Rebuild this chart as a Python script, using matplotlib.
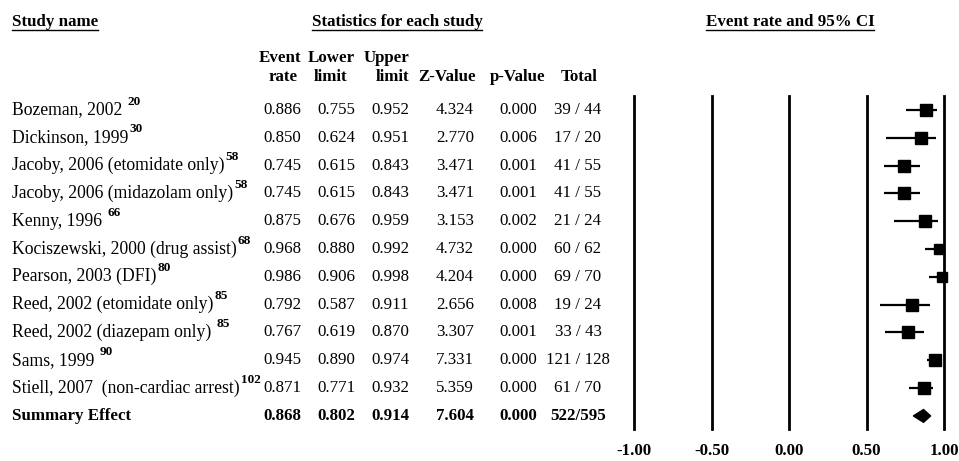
import matplotlib

matplotlib.use("Agg")
import matplotlib.pyplot as plt
from matplotlib.patches import Polygon
from matplotlib.transforms import blended_transform_factory
from matplotlib.lines import Line2D

# ---- data ----
studies = [
    "Bozeman, 2002 ",
    "Dickinson, 1999",
    "Jacoby, 2006 (etomidate only)",
    "Jacoby, 2006 (midazolam only)",
    "Kenny, 1996 ",
    "Kociszewski, 2000 (drug assist)",
    "Pearson, 2003 (DFI)",
    "Reed, 2002 (etomidate only)",
    "Reed, 2002 (diazepam only) ",
    "Sams, 1999 ",
    "Stiell, 2007  (non-cardiac arrest)",
]
refs = ["20", "30", "58", "58", "66", "68", "80", "85", "85", "90", "102"]
event_rate = [0.886, 0.850, 0.745, 0.745, 0.875, 0.968, 0.986, 0.792, 0.767, 0.945, 0.871]
lower_limit = [0.755, 0.624, 0.615, 0.615, 0.676, 0.880, 0.906, 0.587, 0.619, 0.890, 0.771]
upper_limit = [0.952, 0.951, 0.843, 0.843, 0.959, 0.992, 0.998, 0.911, 0.870, 0.974, 0.932]
z_value = [4.324, 2.770, 3.471, 3.471, 3.153, 4.732, 4.204, 2.656, 3.307, 7.331, 5.359]
p_value = [0.000, 0.006, 0.001, 0.001, 0.002, 0.000, 0.000, 0.008, 0.001, 0.000, 0.000]
events = [39, 17, 41, 41, 21, 60, 69, 19, 33, 121, 61]
totals = [44, 20, 55, 55, 24, 62, 70, 24, 43, 128, 70]

summary_label = "Summary Effect"
summary_rate, summary_lower, summary_upper = 0.868, 0.802, 0.914
summary_z, summary_p = 7.604, 0.000
summary_events, summary_total = 522, 595

x_ticks = [-1.00, -0.50, 0.00, 0.50, 1.00]

# ---- layout (pixels of a 959x461 canvas) ----
W, H = 959, 461
FONT = "Liberation Serif"
FS = 12.2
FS_NAME = 12.7
plt.rcParams["font.family"] = [FONT, "DejaVu Serif"]


def fx(px):
    return px / W


def fy(py):
    return 1 - py / H


fig = plt.figure(figsize=(W / 100, H / 100), dpi=100)
fig.patch.set_facecolor("white")

ax = fig.add_axes([fx(634), fy(429), fx(944) - fx(634), fy(96) - fy(429)])
ax.set_xlim(-1.0, 1.0)
ax.set_ylim(11.47, -0.5)
for s in ax.spines.values():
    s.set_visible(False)
ax.set_yticks([])
ax.set_xticks(x_ticks)
ax.set_xticklabels([f"{t:.2f}" for t in x_ticks], fontsize=FS, fontweight="bold")
ax.tick_params(axis="x", length=0, pad=10)
for t in x_ticks:
    ax.axvline(t, color="black", lw=2.0, clip_on=False)

# study markers, box size loosely following study weight
for i in range(len(studies)):
    w = totals[i] * event_rate[i] * (1 - event_rate[i])
    ax.plot([lower_limit[i], upper_limit[i]], [i, i], color="black", lw=1.6,
            solid_capstyle="butt", clip_on=False)
    ax.plot(event_rate[i], i, marker="s", color="black", markersize=7 + 0.6 * w ** 0.5,
            clip_on=False)

k = len(studies)
diamond = Polygon(
    [(summary_lower, k), (summary_rate, k - 0.23), (summary_upper, k), (summary_rate, k + 0.23)],
    closed=True, facecolor="black", edgecolor="black", clip_on=False,
)
ax.add_patch(diamond)

# ---- table text ----
tr = blended_transform_factory(fig.transFigure, ax.transData)
col_right = {"rate": 301, "lower": 355, "upper": 409, "z": 474, "p": 537}
total_center = 578

renderer = fig.canvas.get_renderer()
for i in range(len(studies)):
    t = fig.text(fx(12), i, studies[i], transform=tr, ha="left", va="center", fontsize=FS_NAME)
    bb = t.get_window_extent(renderer)
    fig.text(fx(bb.x1 + 1), i - 0.3, refs[i], transform=tr, ha="left", va="center",
             fontsize=9.5, fontweight="bold")
    row_vals = [event_rate[i], lower_limit[i], upper_limit[i], z_value[i], p_value[i]]
    for key, v in zip(["rate", "lower", "upper", "z", "p"], row_vals):
        fig.text(fx(col_right[key]), i, f"{v:.3f}", transform=tr, ha="right", va="center", fontsize=FS)
    fig.text(fx(total_center), i, f"{events[i]} / {totals[i]}", transform=tr,
             ha="center", va="center", fontsize=FS)

fig.text(fx(12), k, summary_label, transform=tr, ha="left", va="center", fontsize=FS, fontweight="bold")
for key, v in zip(["rate", "lower", "upper", "z", "p"],
                  [summary_rate, summary_lower, summary_upper, summary_z, summary_p]):
    fig.text(fx(col_right[key]), k, f"{v:.3f}", transform=tr, ha="right", va="center",
             fontsize=FS, fontweight="bold")
fig.text(fx(total_center), k, f"{summary_events}/{summary_total}", transform=tr, ha="center",
         va="center", fontsize=FS, fontweight="bold")

# ---- headers ----
def underlined(x, y, s, ha):
    t = fig.text(fx(x), fy(y), s, ha=ha, va="center", fontsize=FS, fontweight="bold")
    bb = t.get_window_extent(renderer)
    fig.add_artist(Line2D([bb.x0 / W, bb.x1 / W], [fy(y + 8.5)] * 2, color="black", lw=1.0))


underlined(12, 22, "Study name", "left")
underlined(397, 22, "Statistics for each study", "center")
underlined(790, 22, "Event rate and 95% CI", "center")

top_hdr = [("Event", 280), ("Lower", 331), ("Upper", 386)]
bot_hdr = [("rate", 283), ("limit", 331), ("limit", 393), ("Z-Value", 447), ("p-Value", 518), ("Total", 579)]
for s, x in top_hdr:
    fig.text(fx(x), fy(58), s, ha="center", va="center", fontsize=FS, fontweight="bold")
for s, x in bot_hdr:
    fig.text(fx(x), fy(77), s, ha="center", va="center", fontsize=FS, fontweight="bold")

fig.savefig("out.png", dpi=100, facecolor="white")
